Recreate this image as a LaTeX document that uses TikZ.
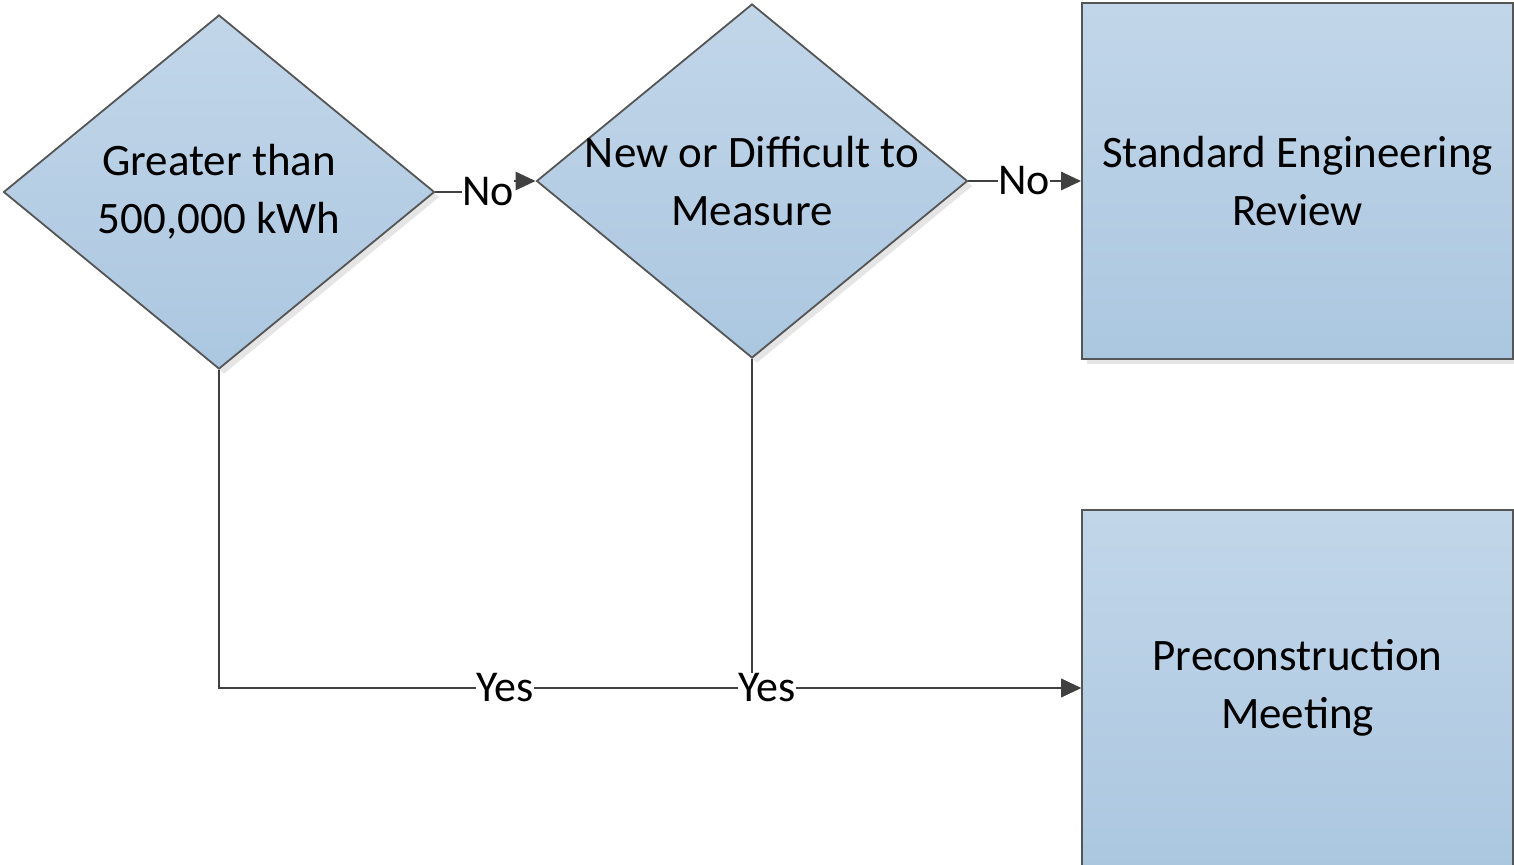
\documentclass[tikz,border=0pt]{standalone}
\usepackage{fontspec}
\setmainfont{Carlito}
\usetikzlibrary{shapes.geometric,arrows.meta,shadows}
\definecolor{boxtop}{HTML}{C2D6E9}
\definecolor{boxbot}{HTML}{ABC7E0}
\definecolor{edge}{HTML}{555555}
\definecolor{conn}{HTML}{404040}
\tikzset{
  shapebase/.style={draw=edge, line width=1.8pt, top color=boxtop, bottom color=boxbot,
    inner sep=0pt, align=center, font=\fontsize{45}{58}\selectfont,
    drop shadow={shadow xshift=5pt, shadow yshift=-5pt, opacity=0.1, fill=black}},
  decision/.style={shapebase, diamond, minimum width=431pt, minimum height=354pt, aspect=1.2175},
  process/.style={shapebase, rectangle, minimum width=431pt, minimum height=356pt},
  dtext/.style={align=center, font=\fontsize{45}{58}\selectfont, inner sep=0pt},
  conline/.style={draw=conn, line width=2.9pt, -{Triangle[length=20pt,width=18pt]}},
  lbl/.style={fill=white, inner sep=0.5pt, font=\fontsize{44}{50}\selectfont, text=black}
}
\begin{document}
\begin{tikzpicture}[x=1pt,y=-1pt]
\useasboundingbox (0,0) rectangle (1514,864);
\node[decision, label={[dtext]center:{Greater than\\500,000 kWh}}] (d1) at (219,192) {};
\node[decision, label={[dtext]center:{New or Difficult to\\Measure}}] (d2) at (752,181) {};
\node[process] (b1) at (1297.5,181) {Standard Engineering\\Review};
\node[process] (b2) at (1297.5,688) {Preconstruction\\Meeting};

\draw[conline] (d1.east) -- (486,192) |- (d2.west);
\draw[conline] (d2.east) -- (b1.west);
\draw[conline] (d1.south) |- (b2.west);
\draw[conline] (d2.south) |- (b2.west);

\node[lbl] (no1) at (488,192) {No};
\node[lbl] (no2) at (1024,181) {No};
\node[lbl] (yes1) at (505,688) {Yes};
\node[lbl] (yes2) at (767,688) {Yes};
\end{tikzpicture}
\end{document}
